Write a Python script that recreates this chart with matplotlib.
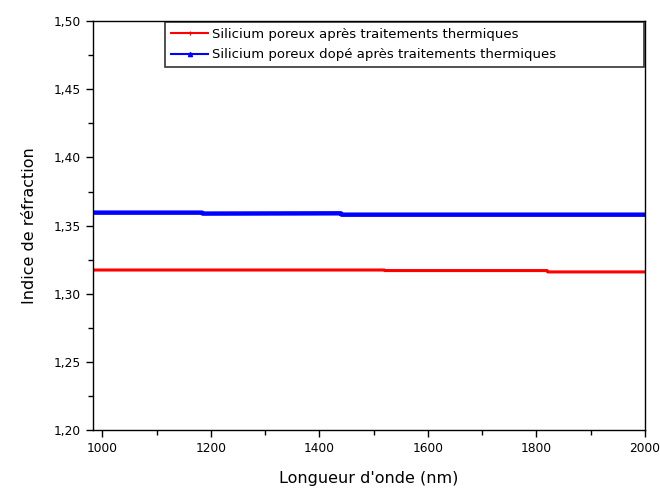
import matplotlib.pyplot as plt
from matplotlib.lines import Line2D
from matplotlib.ticker import MultipleLocator, FuncFormatter

plt.rcParams["font.family"] = ["DejaVu Sans"]

# Silicium poreux (red) - nearly flat index
wl_red = [983, 1520, 1521, 1820, 1821, 2000]
n_red = [1.3174, 1.3174, 1.3170, 1.3170, 1.3160, 1.3160]

# Silicium poreux dope (blue)
wl_blue = [983, 1184, 1185, 1440, 1441, 2000]
n_blue = [1.3595, 1.3595, 1.3588, 1.3590, 1.3580, 1.3580]

label_red = "Silicium poreux après traitements thermiques"
label_blue = "Silicium poreux dopé après traitements thermiques"

fig = plt.figure(figsize=(6.6, 4.92), dpi=100)
ax = fig.add_axes([0.141, 0.126, 0.836, 0.831])

ax.plot(wl_red, n_red, color="red", lw=2.2)
ax.plot(wl_blue, n_blue, color="blue", lw=3.2)

ax.set_xlim(983, 2000)
ax.set_ylim(1.20, 1.50)
ax.xaxis.set_major_locator(MultipleLocator(200))
ax.xaxis.set_minor_locator(MultipleLocator(100))
ax.yaxis.set_major_locator(MultipleLocator(0.05))
ax.yaxis.set_minor_locator(MultipleLocator(0.025))
ax.yaxis.set_major_formatter(FuncFormatter(lambda v, p: f"{v:.2f}".replace(".", ",")))
ax.tick_params(which="both", direction="out", top=False, right=False,
               labelsize=8.8, width=1.0)
ax.tick_params(which="major", length=5)
ax.tick_params(which="minor", length=3.5)
for s in ax.spines.values():
    s.set_linewidth(1.0)

ax.set_xlabel("Longueur d'onde (nm)", fontsize=11.5, labelpad=12)
ax.set_ylabel("Indice de réfraction", fontsize=11.5, labelpad=12)

handles = [
    Line2D([], [], color="red", lw=1.5, marker="|", markersize=3),
    Line2D([], [], color="blue", lw=1.5, marker="^", markersize=3),
]
leg = ax.legend(handles, [label_red, label_blue], loc="upper left",
                bbox_to_anchor=(0.131, 0.0, 0.867, 0.998), mode="expand",
                fontsize=9.5, frameon=True, fancybox=False, edgecolor="black",
                borderaxespad=0.0, handlelength=2.8, handletextpad=0.3,
                labelspacing=0.55, borderpad=0.45, numpoints=1)
leg.get_frame().set_linewidth(1.2)

fig.savefig("out.png", dpi=100)
